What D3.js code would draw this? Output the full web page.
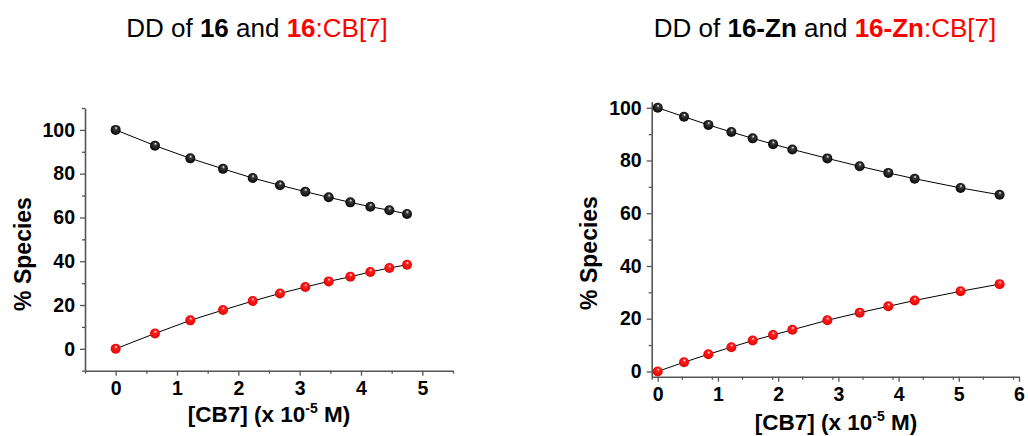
<!DOCTYPE html>
<html><head><meta charset="utf-8">
<script src="https://cdn.jsdelivr.net/npm/d3@7"></script>
<style>body{margin:0;background:#fff}svg{display:block}</style>
</head><body>
<svg id="c" width="1028" height="436"></svg>
<script>
// Left panel: 16 and 16:CB[7]
const xLeft = [0, 0.641, 1.217, 1.75, 2.234, 2.679, 3.092, 3.473, 3.826, 4.152, 4.462, 4.75];
const freeLeft = [100, 92.8, 87.0, 82.2, 78.0, 74.7, 71.8, 69.2, 66.9, 64.9, 63.3, 61.6];
const boundLeft = [0, 7.0, 13.0, 17.7, 21.8, 25.3, 28.2, 30.8, 32.9, 35.1, 36.9, 38.4];
// Right panel: 16-Zn and 16-Zn:CB[7]
const xRight = [0, 0.437, 0.841, 1.223, 1.577, 1.915, 2.236, 2.817, 3.354, 3.830, 4.267, 5.030, 5.678];
const freeRight = [100, 96.6, 93.5, 90.8, 88.4, 86.2, 84.2, 80.8, 77.8, 75.3, 73.1, 69.6, 67.0];
const boundRight = [0, 3.5, 6.5, 9.2, 11.7, 13.8, 15.8, 19.4, 22.3, 24.7, 26.9, 30.4, 33.1];
const xTicksLeft = [0, 1, 2, 3, 4, 5];
const xTicksRight = [0, 1, 2, 3, 4, 5, 6];
const yTicks = [0, 20, 40, 60, 80, 100];
const yLabel = "% Species";

const svg = d3.select("#c");
const FONT = "Arial, 'Liberation Sans', sans-serif";

const defs = svg.append("defs");
function ballGrad(id, base, mid){
  const g = defs.append("radialGradient").attr("id", id)
    .attr("cx", "50%").attr("cy", "50%").attr("r", "55%")
    .attr("fx", "55%").attr("fy", "28%");
  g.append("stop").attr("offset", "0%").attr("stop-color", "#fff");
  g.append("stop").attr("offset", "28%").attr("stop-color", mid);
  g.append("stop").attr("offset", "100%").attr("stop-color", base);
}
ballGrad("gBlack", "#000", "#3a3a3a");
ballGrad("gRed", "#e00000", "#ff2020");

function panel(cfg){
  const x = d3.scaleLinear().domain(cfg.xDom).range(cfg.xRange);
  const y = d3.scaleLinear().domain(cfg.yDom).range(cfg.yRange);
  const g = svg.append("g");
  const axisColor = "#555";
  const xMinor = d3.range(cfg.xDom[0], cfg.xDom[1] + 1e-9, 0.5).filter(v => Math.abs(v - Math.round(v)) > 1e-6);
  const yMinor = d3.range(-10, cfg.yDom[1] + 1e-9, 10).filter(v => v >= cfg.yDom[0] && v % 20 !== 0);
  const gx = g.append("g").attr("transform", `translate(0,${cfg.yRange[0]})`);
  gx.call(d3.axisBottom(x).tickValues(cfg.xTicks).tickSize(5).tickSizeOuter(0).tickPadding(5).tickFormat(d3.format("d")));
  gx.append("g").call(d3.axisBottom(x).tickValues(xMinor).tickSize(3).tickFormat("")).select(".domain").remove();
  const gy = g.append("g").attr("transform", `translate(${cfg.xRange[0]},0)`);
  gy.call(d3.axisLeft(y).tickValues(yTicks).tickSize(5).tickSizeOuter(0).tickPadding(5).tickFormat(d3.format("d")));
  gy.append("g").call(d3.axisLeft(y).tickValues(yMinor).tickSize(3).tickFormat("")).select(".domain").remove();
  g.selectAll(".domain").attr("stroke", axisColor).attr("stroke-width", 1.6);
  g.selectAll(".tick line").attr("stroke", axisColor).attr("stroke-width", 1.3);
  g.selectAll(".tick text").attr("font-family", FONT).attr("font-weight", "bold")
    .attr("font-size", 19.5).attr("fill", "#000");

  const line = d3.line().x((d, i) => x(cfg.xs[i])).y(d => y(d));
  [[cfg.free, "gBlack"], [cfg.bound, "gRed"]].forEach(([vals, grad]) => {
    g.append("path").datum(vals).attr("d", line).attr("fill", "none")
      .attr("stroke", "#000").attr("stroke-width", 1);
    g.selectAll(null).data(vals).enter().append("circle")
      .attr("cx", (d, i) => x(cfg.xs[i])).attr("cy", d => y(d)).attr("r", 5)
      .attr("fill", `url(#${grad})`);
  });

  svg.append("text").attr("transform", `translate(${cfg.yTitleX},${cfg.yTitleY}) rotate(-90)`)
    .attr("text-anchor", "middle").attr("font-family", FONT).attr("font-weight", "bold")
    .attr("font-size", 23).text(yLabel);
  const xt = svg.append("text").attr("x", cfg.xTitleX).attr("y", cfg.xTitleY)
    .attr("text-anchor", "middle").attr("font-family", FONT).attr("font-weight", "bold")
    .attr("font-size", 22.5);
  xt.append("tspan").text("[CB7] (x 10");
  xt.append("tspan").attr("dy", -9).attr("font-size", 14).text("-5");
  xt.append("tspan").attr("dy", 9).text(" M)");

  const t = svg.append("text").attr("x", cfg.titleX).attr("y", 37).attr("text-anchor", "middle")
    .attr("font-family", FONT).attr("font-size", 26);
  t.append("tspan").text("DD of ");
  t.append("tspan").attr("font-weight", "bold").text(cfg.name);
  t.append("tspan").text(" and ");
  t.append("tspan").attr("font-weight", "bold").attr("fill", "#ff0000").text(cfg.name);
  t.append("tspan").attr("fill", "#ff0000").text(":CB[7]");
}

panel({xDom: [-0.5, 5.5], xRange: [85, 453], yDom: [-10, 110], yRange: [370.7, 108],
  xTicks: xTicksLeft, xs: xLeft, free: freeLeft, bound: boundLeft,
  yTitleX: 31, yTitleY: 254, xTitleX: 269, xTitleY: 422, titleX: 257, name: "16"});
panel({xDom: [-0.1, 6], xRange: [651.7, 1019], yDom: [-2, 102.3], yRange: [376.7, 101.7],
  xTicks: xTicksRight, xs: xRight, free: freeRight, bound: boundRight,
  yTitleX: 597, yTitleY: 253, xTitleX: 836, xTitleY: 430, titleX: 825, name: "16-Zn"});
</script>
</body></html>
